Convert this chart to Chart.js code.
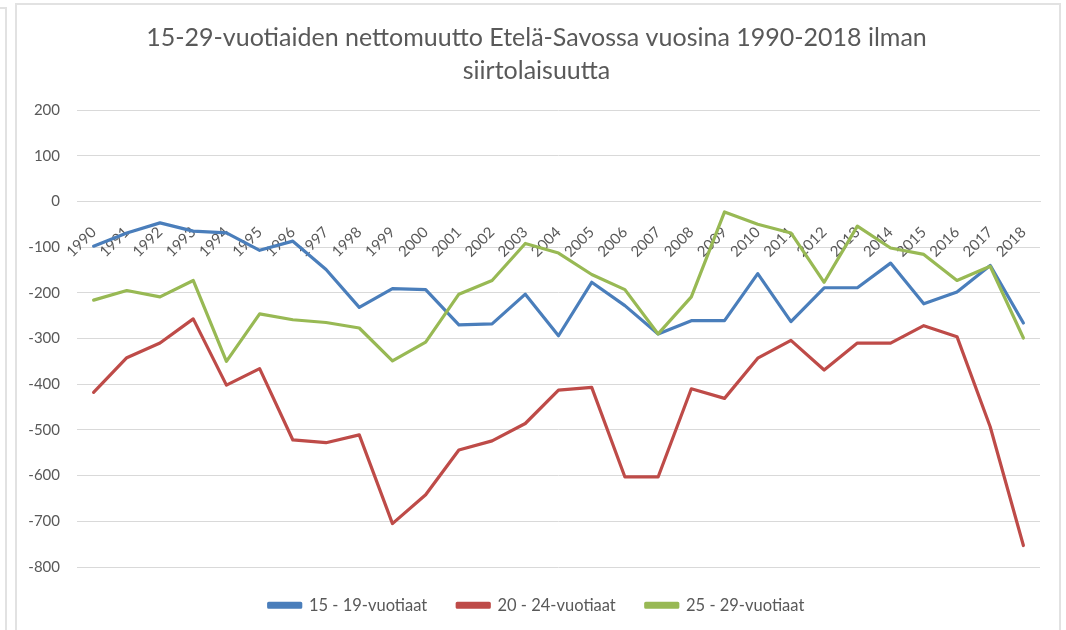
<!DOCTYPE html>
<html>
<head>
<meta charset="utf-8">
<script src="https://cdn.jsdelivr.net/npm/chart.js@4"></script>
<style>
  html, body { margin: 0; padding: 0; background: #fff; }
  #wrap { position: relative; width: 1066px; height: 630px; overflow: hidden; }
  .frame { position: absolute; left: 15px; top: 3px; width: 1042px; height: 660px; border: 2px solid #e2e2e2; }
  .side { position: absolute; left: -4px; top: 7px; width: 9px; height: 660px; border: 2px solid #e2e2e2; border-left: none; }
  canvas { position: absolute; left: 0; top: 0; }
</style>
</head>
<body>
<div id="wrap">
  <div class="side"></div>
  <div class="frame"></div>
  <canvas id="myChart" width="1066" height="630"></canvas>
</div>
<script>
const years = ['1990', '1991', '1992', '1993', '1994', '1995', '1996', '1997', '1998', '1999',
  '2000', '2001', '2002', '2003', '2004', '2005', '2006', '2007', '2008', '2009',
  '2010', '2011', '2012', '2013', '2014', '2015', '2016', '2017', '2018'];

const age15to19 = [-98, -69, -47, -65, -69, -107, -87, -149, -232, -191,
  -193, -270, -268, -203, -294, -177, -228, -290, -261, -261,
  -158, -263, -189, -189, -135, -224, -198, -140, -266];

const age20to24 = [-418, -342, -310, -257, -402, -366, -522, -528, -511, -705,
  -642, -544, -524, -486, -413, -407, -603, -603, -410, -431,
  -343, -304, -369, -310, -310, -272, -296, -493, -753];

const age25to29 = [-216, -195, -209, -173, -350, -246, -259, -265, -277, -349,
  -308, -203, -173, -92, -113, -160, -193, -290, -209, -23,
  -50, -69, -177, -54, -102, -116, -173, -142, -299];

const seriesNames = ['15 - 19-vuotiaat', '20 - 24-vuotiaat', '25 - 29-vuotiaat'];
const yTicks = { min: -800, max: 200, step: 100 };

const grey = '#595959';
const font = 'Lato';

function line(label, data, color, order) {
  return {
    label: label,
    data: data,
    borderColor: color,
    backgroundColor: color,
    borderWidth: 3.2,
    tension: 0,
    pointRadius: 0,
    borderJoinStyle: 'round',
    borderCapStyle: 'round',
    order: order
  };
}

const ctx = document.getElementById('myChart').getContext('2d');

new Chart(ctx, {
  type: 'line',
  data: {
    labels: years,
    datasets: [
      line(seriesNames[0], age15to19, '#4a7ebb', 2),
      line(seriesNames[1], age20to24, '#be4b48', 1),
      line(seriesNames[2], age25to29, '#98b954', 0)
    ]
  },
  options: {
    responsive: false,
    animation: false,
    devicePixelRatio: 1,
    layout: { padding: { left: 7, right: 0, top: 0, bottom: 6.5 } },
    plugins: {
      title: {
        display: true,
        text: ['15-29-vuotiaiden nettomuutto Etelä-Savossa vuosina 1990-2018 ilman', 'siirtolaisuutta'],
        color: grey,
        font: { family: font, size: 25, weight: 'normal', lineHeight: 1.3 },
        padding: { top: 22, bottom: 23 }
      },
      legend: {
        position: 'bottom',
        labels: {
          color: grey,
          font: { family: font, size: 16.5 },
          boxWidth: 32,
          boxHeight: 4,
          padding: 30,
          sort: (a, b) => a.datasetIndex - b.datasetIndex
        }
      },
      tooltip: { enabled: false }
    },
    scales: {
      x: {
        type: 'category',
        offset: true,
        position: { y: 0 },
        grid: { display: false },
        border: { color: '#d9d9d9' },
        ticks: {
          color: grey,
          font: { family: font, size: 15 },
          minRotation: 45,
          maxRotation: 45,
          autoSkip: false,
          padding: 14
        }
      },
      y: {
        min: yTicks.min,
        max: yTicks.max,
        afterFit: (scale) => { scale.width = 70; },
        grid: { color: '#d9d9d9', lineWidth: 1, drawTicks: false },
        border: { display: false },
        ticks: {
          stepSize: yTicks.step,
          color: grey,
          font: { family: font, size: 15 },
          padding: 17
        }
      },
      // empty right axis, only keeps the right margin so the title stays centred on the page
      yRight: {
        position: 'right',
        min: yTicks.min,
        max: yTicks.max,
        afterFit: (scale) => { scale.width = 26; },
        grid: { display: false },
        border: { display: false },
        ticks: { display: false }
      }
    }
  }
});
</script>
</body>
</html>
